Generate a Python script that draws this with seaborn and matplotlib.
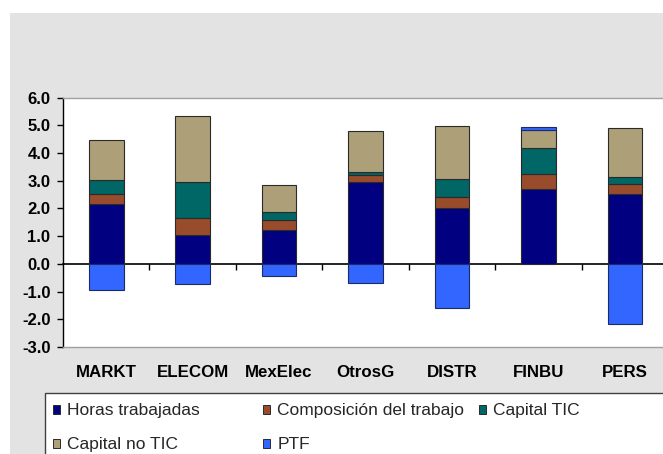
import numpy as np
import pandas as pd
import matplotlib
matplotlib.use("Agg")
import matplotlib.pyplot as plt
from matplotlib.patches import Patch, Rectangle
import seaborn as sns

# Datos
sectores = ["MARKT", "ELECOM", "MexElec", "OtrosG", "DISTR", "FINBU", "PERS"]
horas = [2.18, 1.06, 1.23, 2.95, 2.03, 2.72, 2.54]
composicion = [0.36, 0.58, 0.34, 0.26, 0.38, 0.51, 0.34]
capital_tic = [0.48, 1.33, 0.30, 0.11, 0.65, 0.96, 0.25]
capital_no_tic = [1.44, 2.37, 0.97, 1.49, 1.93, 0.64, 1.77]
ptf = [-0.93, -0.71, -0.43, -0.70, -1.58, 0.13, -2.18]

series = ["Horas trabajadas", "Composición del trabajo", "Capital TIC", "Capital no TIC", "PTF"]
colores = ["#000080", "#984C2C", "#006666", "#ADA078", "#3366FF"]
yticks = [-3, -2, -1, 0, 1, 2, 3, 4, 5, 6]

sns.set_theme(style="white")
plt.rcParams['font.family'] = ['Liberation Sans', 'DejaVu Sans']

df = pd.DataFrame({"sector": sectores, series[0]: horas, series[1]: composicion,
                   series[2]: capital_tic, series[3]: capital_no_tic, series[4]: ptf})

W, H = 663, 454
fig = plt.figure(figsize=(W / 100, H / 100), dpi=100, facecolor="white")
fig.add_artist(Rectangle((10 / W, 0), 1, 1 - 13 / H, transform=fig.transFigure,
                         facecolor="#e3e3e3", edgecolor="none", zorder=0))

ax = fig.add_axes([63 / W, 1 - 347 / H, 605 / W, 249.3 / H])
ax.set_facecolor("white")

# barras apiladas
base = np.zeros(len(sectores))
for name, col in zip(series[:4], colores[:4]):
    sns.barplot(data=df, x="sector", y=name, order=sectores, bottom=base, color=col,
                saturation=1, width=0.4, errorbar=None, edgecolor="#2a2a2a",
                linewidth=0.8, ax=ax)
    base = base + df[name].to_numpy()
ptf_base = np.where(df["PTF"].to_numpy() > 0, base, 0)
sns.barplot(data=df, x="sector", y="PTF", order=sectores, bottom=ptf_base, color=colores[4],
            saturation=1, width=0.4, errorbar=None, edgecolor="#1a2a6a",
            linewidth=0.8, ax=ax)

ax.set_xlabel("")
ax.set_ylabel("")
ax.set_xlim(-0.5, len(sectores) - 0.5)
ax.set_ylim(yticks[0], yticks[-1])
ax.set_yticks(yticks, [f"{v:.1f}" for v in yticks], fontweight="bold", fontsize=12)
ax.set_xticks(range(len(sectores)), sectores, fontweight="bold", fontsize=12.2)
ax.tick_params(axis="x", length=0, pad=13, colors="black")
ax.tick_params(axis="y", direction="out", length=4, width=1, pad=5, color="black",
               labelcolor="black", left=True)

for s in ["top", "bottom"]:
    ax.spines[s].set_color("#a0a0a0")
    ax.spines[s].set_linewidth(1)
ax.spines["right"].set_visible(False)
ax.spines["left"].set_color("black")
ax.spines["left"].set_linewidth(1)

# linea del cero con marcas entre categorias
zero = ax.secondary_xaxis((0 - yticks[0]) / (yticks[-1] - yticks[0]))
zero.set_xticks(np.arange(len(sectores) - 1) + 0.5)
zero.tick_params(axis="x", direction="out", length=4.5, width=1, color="black",
                 bottom=True, top=False, labelbottom=False, labeltop=False)
zero.spines["bottom"].set_color("black")
zero.spines["bottom"].set_linewidth(1.2)

# leyenda
fig.add_artist(Rectangle((45 / W, -0.1), 1, 0.1 + 1 - 393 / H, transform=fig.transFigure,
                         facecolor="white", edgecolor="#404040", linewidth=1, zorder=1))
handles = [Patch(facecolor=c, edgecolor="#2a2a2a", linewidth=0.7, label=s)
           for s, c in zip(series, colores)]
columnas = [[handles[0], handles[3]], [handles[1], handles[4]], [handles[2]]]
col_x = [53, 263, 479]
for hs, x in zip(columnas, col_x):
    fig.legend(handles=hs, loc="upper left", bbox_to_anchor=(x / W, 1 - 403.5 / H),
               frameon=False, fontsize=12.5, handlelength=0.42, handleheight=0.42,
               handletextpad=0.4, labelspacing=1.08, borderpad=0, borderaxespad=0)

plt.savefig("out.png", dpi=100, facecolor="white")
